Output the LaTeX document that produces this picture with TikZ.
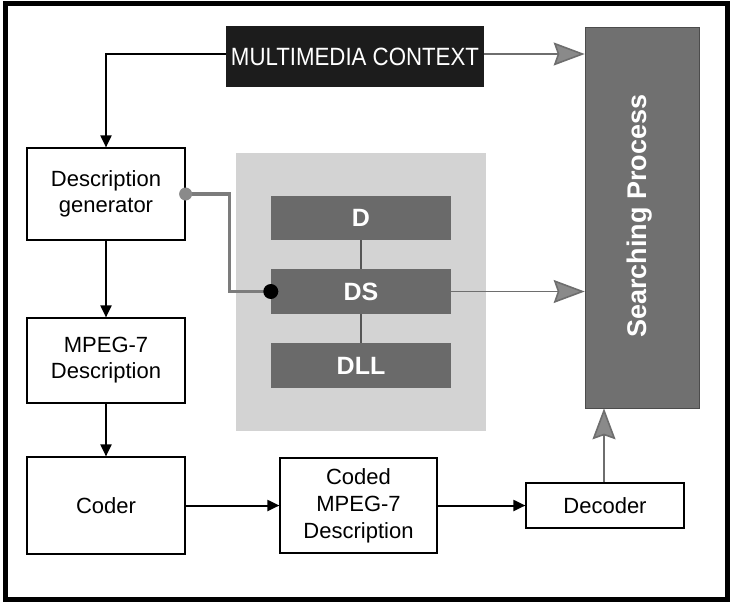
\documentclass[tikz,border=0pt]{standalone}
\usepackage{fontspec}
\setmainfont{Liberation Sans}
\usetikzlibrary{arrows.meta}
\definecolor{spgray}{HTML}{707070}
\definecolor{dgray}{HTML}{6A6A6A}
\definecolor{panelgray}{HTML}{D3D3D3}
\definecolor{arrgray}{HTML}{8A8A8A}
\definecolor{mcblack}{HTML}{1C1C1C}
\begin{document}
\begin{tikzpicture}[x=1pt,y=-1pt,
  whitebox/.style={draw=black, line width=1.2pt, fill=white, align=center, inner sep=0pt,
    font=\fontsize{22}{26}\selectfont},
  layerbox/.style={fill=dgray, text=white, minimum width=180pt, minimum height=45pt, inner sep=0pt,
    font=\fontsize{25}{28}\selectfont\bfseries},
  blackarrow/.style={line width=2pt, -{Triangle[length=12pt,width=11pt]}},
  grayarrow/.style={draw=arrgray!80!black, line width=1.6pt, -{Stealth[length=31pt,width=23pt,inset=4pt,fill=arrgray]}},
  grayline/.style={draw=arrgray!90!black, line width=3.5pt},
  link/.style={draw=dgray!80!black, line width=2pt}
]
\useasboundingbox (0,0) rectangle (731,606);
\fill[white] (0,0) rectangle (731,606);
\draw[line width=5pt] (5,3) rectangle (727,599);

% panel
\node[fill=panelgray, minimum width=250pt, minimum height=278pt, inner sep=0pt] (panel) at (361,292) {};

% top
\node[fill=mcblack, text=white, minimum width=258pt, minimum height=61pt, inner sep=0pt,
  font=\fontsize{25}{28}\selectfont] (mc) at (355,56.5) {\scalebox{0.89}[1]{MULTIMEDIA CONTEXT}};
\node[fill=spgray, draw=black!70, line width=0.6pt, minimum width=114pt, minimum height=381pt, inner sep=0pt] (sp) at (642,217.5) {};
\node[rotate=90, text=white, font=\fontsize{27}{30}\selectfont\bfseries] (sptext) at (640,216) {Searching Process};

% left column
\node[whitebox, minimum width=158pt, minimum height=92pt] (dg) at (106,194) {Description\\generator};
\node[whitebox, minimum width=158pt, minimum height=85pt] (mp) at (106,360.5) {MPEG-7\\Description};
\node[whitebox, minimum width=158pt, minimum height=97pt] (coder) at (106,505.5) {Coder};
\node[whitebox, minimum width=157pt, minimum height=95pt, font=\fontsize{22}{27}\selectfont] (coded) at (358.5,505.5) {Coded\\MPEG-7\\Description};
\node[whitebox, minimum width=158pt, minimum height=45pt] (dec) at (605,505.5) {Decoder};

% layers
\node[layerbox, minimum height=44pt] (d) at (361,218) {D};
\node[layerbox] (ds) at (361,291.5) {DS};
\node[layerbox] (dll) at (361,365.5) {DLL};
\draw[link] (d.south) -- (ds.north);
\draw[link] (ds.south) -- (dll.north);

% connectors
\draw[blackarrow] ([yshift=2.5pt]mc.west) -| (dg.north);
\draw[grayarrow] ([yshift=2.5pt]mc.east) -- ([yshift=2.5pt]mc.east -| sp.west);
\draw[blackarrow] (dg.south) -- (mp.north);
\draw[blackarrow] (mp.south) -- (coder.north);
\draw[blackarrow] (coder.east) -- (coded.west);
\draw[blackarrow] (coded.east) -- (dec.west);
\draw[grayarrow] (ds.east) -- (ds.east -| sp.west);
\draw[grayarrow] ([xshift=-1pt]dec.north) -- ([xshift=-1pt]dec.north |- sp.south);
\draw[grayline] (dg.east) -- ++(44,0) |- (ds.west);
\fill[arrgray] (dg.east) circle (6.5pt);
\fill[black] (ds.west) circle (7.5pt);
\end{tikzpicture}
\end{document}
